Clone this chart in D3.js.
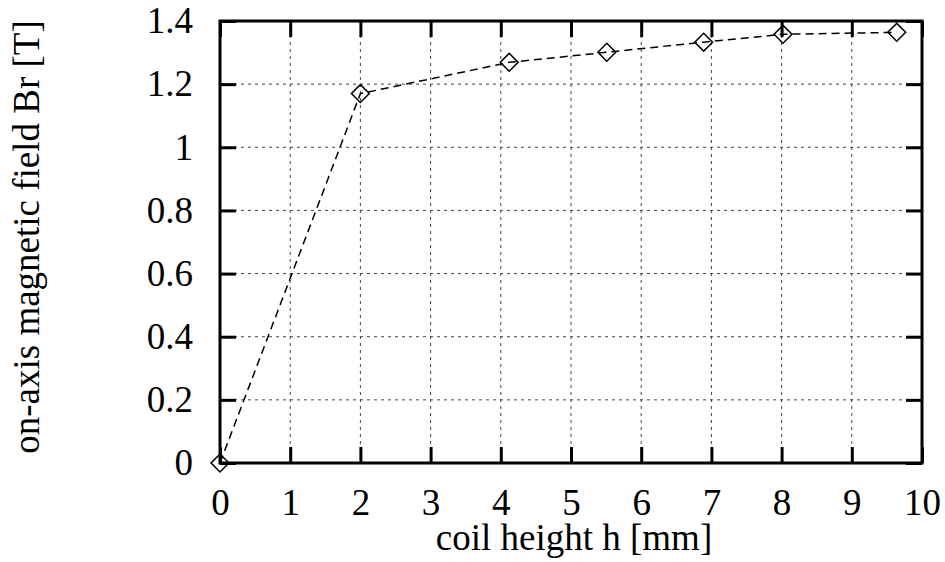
<!DOCTYPE html>
<html>
<head>
<meta charset="utf-8">
<script src="https://cdn.jsdelivr.net/npm/d3@7"></script>
<style>
body { margin: 0; background: #fff; }
</style>
</head>
<body>
<div id="canvas"></div>
<script>
// ----------------------------------------------------------
// DATA -----------------------------------------------------
// ----------------------------------------------------------
var coil_height = [0, 2, 4.12, 5.51, 6.89, 8.02, 9.64];
var field_br = [0, 1.17, 1.269, 1.301, 1.333, 1.358, 1.364];
var x_ticks = [0, 1, 2, 3, 4, 5, 6, 7, 8, 9, 10];
var y_ticks = [0, 0.2, 0.4, 0.6, 0.8, 1, 1.2, 1.4];
var x_title = "coil height h [mm]";
var y_title = "on-axis magnetic field Br [T]";

var points = coil_height.map((h, i) => ({ h: h, b: field_br[i] }));

// ----------------------------------------------------------
// STRUCTURE ------------------------------------------------
// ----------------------------------------------------------
var W = 945, H = 562;
var plot_l = 220, plot_r = 922, plot_t = 21, plot_b = 463;
var font_size = 37;
var font_family = "'Liberation Serif', 'Times New Roman', serif";
var tick_len = 16;

var svg = d3.select("#canvas").append("svg")
.attr("width", W)
.attr("height", H)
.style("font-family", font_family);

var xScale = d3.scaleLinear().domain([0, 10]).range([plot_l, plot_r]);
var yScale = d3.scaleLinear().domain([0, 1.4]).range([plot_b, plot_t]);

// grid -----------------------------------------------------
var grid = svg.append("g").attr("class", "grid");
grid.selectAll(".gx")
.data(x_ticks.filter((d) => d > 0 && d < 10))
.enter().append("line")
.attr("x1", (d) => xScale(d)).attr("x2", (d) => xScale(d))
.attr("y1", plot_t).attr("y2", plot_b)
.attr("stroke", "#444").attr("stroke-width", 1)
.attr("stroke-dasharray", "3,4");
grid.selectAll(".gy")
.data(y_ticks.filter((d) => d > 0 && d < 1.4))
.enter().append("line")
.attr("x1", plot_l).attr("x2", plot_r)
.attr("y1", (d) => yScale(d)).attr("y2", (d) => yScale(d))
.attr("stroke", "#444").attr("stroke-width", 1)
.attr("stroke-dasharray", "3,4");

// axes -----------------------------------------------------
function styleAxis(g) {
g.attr("font-family", null).attr("font-size", null);
g.select(".domain").remove();
g.selectAll(".tick line").attr("stroke", "#000").attr("stroke-width", 3);
g.selectAll(".tick text")
.style("font-size", font_size + "px")
.style("font-family", font_family)
.attr("fill", "#000");
}

svg.append("g")
.attr("transform", `translate(0, ${plot_b})`)
.call(d3.axisBottom(xScale).tickValues(x_ticks).tickSize(-tick_len).tickPadding(26).tickFormat(d3.format("d")))
.call(styleAxis);

svg.append("g")
.attr("transform", `translate(0, ${plot_t})`)
.call(d3.axisTop(xScale).tickValues(x_ticks).tickSize(-tick_len).tickFormat(""))
.call(styleAxis);

svg.append("g")
.attr("transform", `translate(${plot_l}, 0)`)
.call(d3.axisLeft(yScale).tickValues(y_ticks).tickSize(-tick_len).tickPadding(27).tickFormat((d) => String(+d.toFixed(1))))
.call(styleAxis);

svg.append("g")
.attr("transform", `translate(${plot_r}, 0)`)
.call(d3.axisRight(yScale).tickValues(y_ticks).tickSize(-tick_len).tickFormat(""))
.call(styleAxis);

// border
svg.append("rect")
.attr("x", plot_l).attr("y", plot_t)
.attr("width", plot_r - plot_l).attr("height", plot_b - plot_t)
.attr("fill", "none").attr("stroke", "#000").attr("stroke-width", 3);

// line + markers -------------------------------------------
var line = d3.line().x((d) => xScale(d.h)).y((d) => yScale(d.b));

svg.append("path")
.datum(points)
.attr("d", line)
.attr("fill", "none")
.attr("stroke", "#000")
.attr("stroke-width", 1.5)
.attr("stroke-dasharray", "8,5");

var diamond = d3.symbol().type(d3.symbolSquare).size(160);
svg.selectAll(".marker")
.data(points)
.enter().append("path")
.attr("class", "marker")
.attr("d", diamond)
.attr("transform", (d) => `translate(${xScale(d.h)}, ${yScale(d.b)}) rotate(45)`)
.attr("fill", "none")
.attr("stroke", "#000")
.attr("stroke-width", 1.5);

// titles ---------------------------------------------------
svg.append("text")
.attr("x", 574).attr("y", 550)
.attr("text-anchor", "middle")
.style("font-size", font_size + "px")
.style("font-family", font_family)
.text(x_title);

svg.append("text")
.attr("transform", "translate(39, 237) rotate(-90)")
.attr("text-anchor", "middle")
.style("font-size", font_size + "px")
.style("font-family", font_family)
.text(y_title);
</script>
</body>
</html>
